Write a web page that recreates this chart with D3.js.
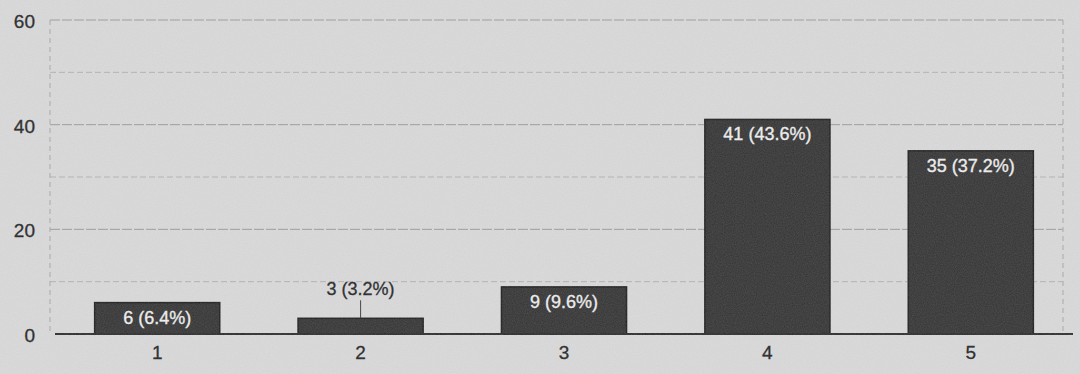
<!DOCTYPE html>
<html>
<head>
<meta charset="utf-8">
<script src="https://cdn.jsdelivr.net/npm/d3@7"></script>
<style>
  body { margin: 0; background: #d8d8d8; }
  svg { display: block; font-family: "Liberation Sans", Arial, sans-serif; }
</style>
</head>
<body>
<svg id="chart" width="1080" height="374"></svg>
<script>
// chart data
var categories = ['1', '2', '3', '4', '5'];
var counts = [6, 3, 9, 41, 35];
var labels = ['6 (6.4%)', '3 (3.2%)', '9 (9.6%)', '41 (43.6%)', '35 (37.2%)'];
var majorTicks = [0, 20, 40, 60];
var minorTicks = [10, 30, 50];

var width = 1080, height = 374;
var svg = d3.select('#chart');

// scanned-paper grain
var defs = svg.append('defs');
var grain = defs.append('filter').attr('id', 'grain')
  .attr('x', 0).attr('y', 0).attr('width', '100%').attr('height', '100%');
grain.append('feTurbulence')
  .attr('type', 'fractalNoise').attr('baseFrequency', 0.9)
  .attr('numOctaves', 2).attr('seed', 3).attr('result', 'noise');
grain.append('feColorMatrix').attr('in', 'noise').attr('type', 'matrix')
  .attr('values', '0 0 0 0 0.45  0 0 0 0 0.45  0 0 0 0 0.47  0 0 0 0.22 0');

svg.append('rect')
  .attr('width', width).attr('height', height)
  .attr('fill', '#dcdcdd');

var x = d3.scaleBand()
  .domain(categories)
  .range([56, 1072])
  .paddingInner(0.385)
  .paddingOuter(0.19);

var y = d3.scaleLinear()
  .domain([0, 60])
  .range([334, 20]);

var plotLeft = 50, plotRight = 1063;

// minor gridlines
svg.append('g').attr('class', 'minor-grid')
  .selectAll('line').data(minorTicks).enter().append('line')
  .attr('x1', plotLeft).attr('x2', plotRight)
  .attr('y1', function (d) { return y(d); })
  .attr('y2', function (d) { return y(d); })
  .attr('stroke', '#b4b4b4')
  .attr('stroke-dasharray', '6 3')
  .attr('stroke-width', 1);

// major gridlines
svg.append('g').attr('class', 'major-grid')
  .selectAll('line').data(majorTicks.filter(function (d) { return d > 0; }))
  .enter().append('line')
  .attr('x1', plotLeft).attr('x2', plotRight)
  .attr('y1', function (d) { return y(d); })
  .attr('y2', function (d) { return y(d); })
  .attr('stroke', '#9c9c9c')
  .attr('stroke-dasharray', '10 2')
  .attr('stroke-width', 1);

// faint vertical edges of the plot
svg.append('g').attr('class', 'edges')
  .selectAll('line').data([plotLeft, plotRight]).enter().append('line')
  .attr('x1', function (d) { return d; }).attr('x2', function (d) { return d; })
  .attr('y1', y(60)).attr('y2', y(0))
  .attr('stroke', '#a8a8a8')
  .attr('stroke-dasharray', '5 4')
  .attr('stroke-width', 1);

// y axis labels
svg.append('g').attr('class', 'y-axis')
  .attr('transform', 'translate(35,0)')
  .call(d3.axisLeft(y).tickValues(majorTicks).tickSize(0).tickPadding(0))
  .call(function (g) { g.select('.domain').remove(); })
  .selectAll('text')
  .attr('font-size', 19)
  .attr('fill', '#222')
  .attr('stroke', '#222').attr('stroke-width', 0.3)
  .attr('font-family', '"Liberation Sans", Arial, sans-serif')
  .attr('dy', '0.4em');

// bars
svg.append('g').attr('class', 'bars')
  .selectAll('rect').data(counts).enter().append('rect')
  .attr('x', function (d, i) { return x(categories[i]); })
  .attr('width', x.bandwidth())
  .attr('y', function (d) { return y(d); })
  .attr('height', function (d) { return y(0) - y(d); })
  .attr('fill', '#333333')
  .attr('stroke', '#1c1c1c')
  .attr('stroke-width', 1.5);

// baseline
svg.append('line')
  .attr('x1', 55).attr('x2', 1073)
  .attr('y1', y(0)).attr('y2', y(0))
  .attr('stroke', '#2b2b2b')
  .attr('stroke-width', 2);

// x axis labels
svg.append('g').attr('class', 'x-axis')
  .attr('transform', 'translate(0,' + (y(0) + 4) + ')')
  .call(d3.axisBottom(x).tickSize(0).tickPadding(8))
  .call(function (g) { g.select('.domain').remove(); })
  .selectAll('text')
  .attr('font-size', 19)
  .attr('fill', '#222')
  .attr('stroke', '#222').attr('stroke-width', 0.3)
  .attr('font-family', '"Liberation Sans", Arial, sans-serif');

// value labels: inside the bar when it is tall enough, above it with a leader otherwise
var minInside = 24;
var valueLabels = svg.append('g').attr('class', 'value-labels');
counts.forEach(function (d, i) {
  var cx = x(categories[i]) + x.bandwidth() / 2;
  var top = y(d);
  var inside = y(0) - top >= minInside;
  if (inside) {
    valueLabels.append('text')
      .attr('x', cx)
      .attr('y', top + 21)
      .attr('text-anchor', 'middle')
      .attr('font-size', 18)
      .attr('fill', '#f2f2f2')
      .attr('stroke', '#f2f2f2').attr('stroke-width', 0.35)
      .text(labels[i]);
  } else {
    valueLabels.append('line')
      .attr('x1', cx).attr('x2', cx)
      .attr('y1', top - 18).attr('y2', top)
      .attr('stroke', '#3a3a3a')
      .attr('stroke-width', 1);
    valueLabels.append('text')
      .attr('x', cx)
      .attr('y', top - 23)
      .attr('text-anchor', 'middle')
      .attr('font-size', 18)
      .attr('fill', '#222')
      .attr('stroke', '#222').attr('stroke-width', 0.3)
      .text(labels[i]);
  }
});

// grain over everything
svg.append('rect')
  .attr('width', width).attr('height', height)
  .attr('filter', 'url(#grain)')
  .attr('pointer-events', 'none');
</script>
</body>
</html>
